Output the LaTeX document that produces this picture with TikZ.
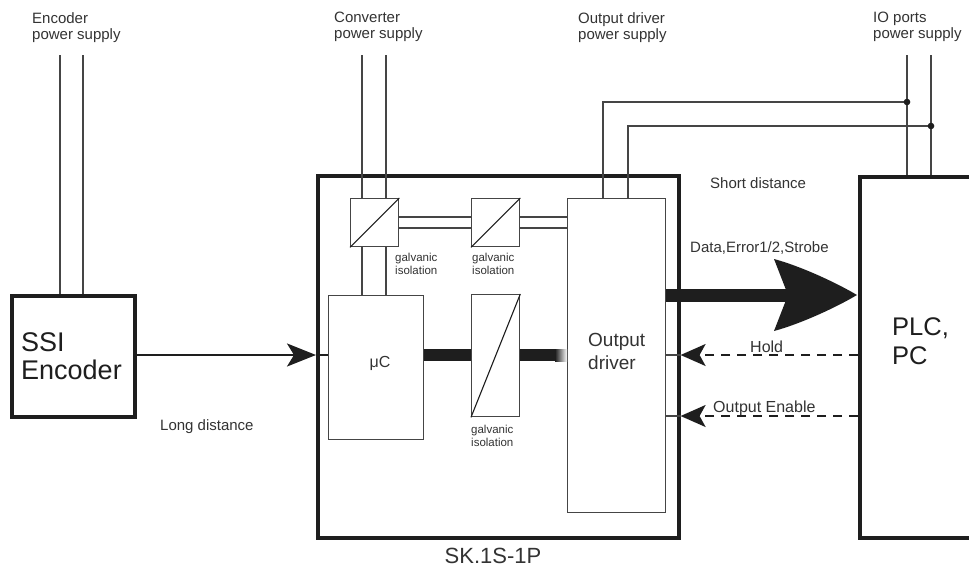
\documentclass[tikz,border=0pt]{standalone}
\usepackage{fontspec}
\setmainfont{Liberation Sans}
\usetikzlibrary{arrows.meta}
\definecolor{ink}{HTML}{1E1E1E}
\definecolor{txt}{HTML}{333333}
\definecolor{wire}{HTML}{454545}
\begin{document}
\begin{tikzpicture}[x=1pt,y=-1pt,
  thickbox/.style={draw=ink, line width=3.6pt, inner sep=0pt, anchor=north west},
  thinbox/.style={draw=wire, line width=1.3pt, inner sep=0pt, anchor=north west, fill=white},
  wireline/.style={draw=wire, line width=1.3pt},
  diag/.style={draw=ink, line width=1.1pt},
  busline/.style={draw=ink, line width=12pt},
  sigline/.style={draw=ink, line width=1.8pt},
  dashsig/.style={draw=ink, line width=1.6pt, dash pattern=on 9pt off 7pt},
  smalltip/.style={-{Stealth[length=25pt,width=22pt,inset=6pt]}},
  lbl/.style={text=txt, inner sep=0pt, align=left, anchor=north west, font=\fontsize{15}{16}\selectfont},
  sig/.style={text=txt, inner sep=0pt, anchor=base west, font=\fontsize{15}{16}\selectfont},
  galv/.style={text=txt, inner sep=0pt, align=left, anchor=north west, font=\fontsize{11.5}{12.5}\selectfont},
  big/.style={text=ink, inner sep=0pt, align=left, anchor=north west}
]
\clip (0,0) rectangle (969,570);
\fill[white] (0,0) rectangle (969,570);

% boxes
\node[thickbox, minimum width=123pt, minimum height=121pt] (ssi) at (10,294) {};
\node[thickbox, minimum width=361pt, minimum height=362pt] (sk) at (316,174) {};
\node[thickbox, minimum width=200pt, minimum height=361pt] (plc) at (858,175) {};
\node[thinbox, minimum width=48pt, minimum height=48pt] (iso1) at (350,198) {};
\node[thinbox, minimum width=48pt, minimum height=48pt] (iso2) at (471,198) {};
\node[thinbox, minimum width=95pt, minimum height=144pt] (uc) at (328,295) {};
\node[thinbox, minimum width=48pt, minimum height=122pt] (iso3) at (471,294) {};
\node[thinbox, minimum width=98pt, minimum height=314pt] (od) at (567,198) {};

% isolation diagonals
\draw[diag] (iso1.south west) -- (iso1.north east);
\draw[diag] (iso2.south west) -- (iso2.north east);
\draw[diag] (iso3.south west) -- (iso3.north east);

% supply lines
\coordinate (e1) at (60,55);
\coordinate (e2) at (83,55);
\draw[wireline] (e1) -- (e1 |- ssi.north);
\draw[wireline] (e2) -- (e2 |- ssi.north);
\coordinate (c1) at (362,55);
\coordinate (c2) at (386,55);
\draw[wireline] (c1) -- (c1 |- iso1.north);
\draw[wireline] (c2) -- (c2 |- iso1.north);
\draw[wireline] (c1 |- iso1.south) -- (c1 |- uc.north);
\draw[wireline] (c2 |- iso1.south) -- (c2 |- uc.north);
\coordinate (h1) at (0,217);
\coordinate (h2) at (0,228);
\draw[wireline] (iso1.east |- h1) -- (iso2.west |- h1);
\draw[wireline] (iso1.east |- h2) -- (iso2.west |- h2);
\draw[wireline] (iso2.east |- h1) -- (od.west |- h1);
\draw[wireline] (iso2.east |- h2) -- (od.west |- h2);
\coordinate (o1) at (603,102);
\coordinate (o2) at (628,126);
\coordinate (p1) at (907,55);
\coordinate (p2) at (931,55);
\draw[wireline] (o1 |- od.north) -- (o1) -- (p1 |- o1);
\draw[wireline] (o2 |- od.north) -- (o2) -- (p2 |- o2);
\draw[wireline] (p1) -- (p1 |- plc.north);
\draw[wireline] (p2) -- (p2 |- plc.north);
\fill[ink] (p1 |- o1) circle (3.3pt);
\fill[ink] (p2 |- o2) circle (3.3pt);

% SSI signal
\coordinate (sy) at (0,355);
\draw[sigline, -{Stealth[length=29pt,width=23pt,inset=7pt]}] (ssi.east |- sy) -- (sk.west |- sy);
\draw[sigline] (sk.west |- sy) -- (uc.west |- sy);

% internal bus
\draw[busline] (uc.east |- sy) -- (iso3.west |- sy);
\coordinate (fadeA) at (555,349);
\coordinate (fadeB) at (567,361);
\draw[busline] (iso3.east |- sy) -- (fadeA |- sy);
\shade[left color=ink, right color=white] (fadeA) rectangle (fadeB);

% data arrow
\coordinate (dy) at (0,295);
\coordinate (dtip) at (857,295);
\draw[draw=ink, line width=13pt] (od.east |- dy) -- (795,295);
\fill[ink] (dtip) .. controls (835,282) and (800,266) .. (774,259) -- (788,295)
  -- (774,331) .. controls (800,324) and (835,308) .. (dtip) -- cycle;

% hold / output enable
\coordinate (hy) at (0,355);
\coordinate (ey) at (0,416);
\draw[wireline] (od.east |- hy) -- (sk.east |- hy);
\draw[wireline] (od.east |- ey) -- (sk.east |- ey);
\draw[dashsig, smalltip] (plc.west |- hy) -- (sk.east |- hy);
\draw[dashsig, smalltip] (plc.west |- ey) -- (sk.east |- ey);

% labels
\node[lbl] (tEnc) at (32,12) {Encoder\\power supply};
\node[lbl] (tConv) at (334,12) {Converter\\power supply};
\node[lbl] (tOdps) at (578,12) {Output driver\\power supply};
\node[lbl] (tIo) at (873,12) {IO ports\\power supply};
\node[sig] (tShort) at (710,188) {Short distance};
\node[sig] (tLong) at (160,430) {Long distance};
\node[sig] (tData) at (690,252) {Data,Error1/2,Strobe};
\node[sig, font=\fontsize{16}{17}\selectfont] (tHold) at (750,352) {Hold};
\node[sig, font=\fontsize{16}{17}\selectfont] (tOE) at (713,412) {Output Enable};
\node[galv] (g1) at (395,253) {galvanic\\isolation};
\node[galv] (g2) at (472,253) {galvanic\\isolation};
\node[galv] (g3) at (471,425) {galvanic\\isolation};
\node[big, font=\fontsize{27}{28}\selectfont] (tSsi) at (21,332) {SSI\\Encoder};
\node[big, font=\fontsize{25.5}{29}\selectfont] (tPlc) at (892,317) {PLC,\\PC};
\node[big, text=txt, font=\fontsize{19}{23}\selectfont] (tOd) at (588,333) {Output\\driver};
\node[text=txt, inner sep=0pt, anchor=base, font=\fontsize{16}{17}\selectfont] (tUc) at (380,367) {μC};
\node[text=txt, inner sep=0pt, anchor=base, font=\fontsize{22}{24}\selectfont] (tSk) at (493,563) {SK.1S-1P};
\end{tikzpicture}
\end{document}
